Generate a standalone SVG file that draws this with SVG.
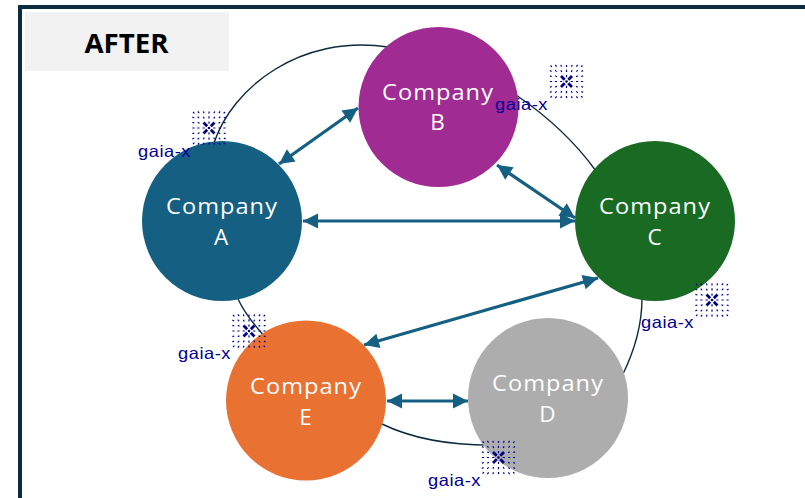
<svg xmlns="http://www.w3.org/2000/svg" width="805" height="498" viewBox="0 0 805 498">
<style>
.frame{fill:none;stroke:#0b2b3e;stroke-width:4}
.arc{fill:none;stroke:#0b2b3e;stroke-width:1.4}
.arrow{fill:none;stroke:#156082;stroke-width:3.200;marker-start:url(#head);marker-end:url(#head)}
.name{font-family:"Open Sans","Liberation Sans",sans-serif;font-size:22.500px;letter-spacing:1px;fill:#fff;text-anchor:middle}
.gx{font-family:"Liberation Sans",sans-serif;font-size:16.500px;letter-spacing:.5px;fill:#000099}
.title{font-family:"Open Sans","Liberation Sans",sans-serif;font-weight:700;font-size:26px;fill:#000;text-anchor:middle}
</style>
<defs>
<marker id="head" markerUnits="userSpaceOnUse" markerWidth="18" markerHeight="18" viewBox="0 0 18 18" refX="16" refY="9" orient="auto-start-reverse">
<path d="M1 1.500L16 9L1 16.500Z" fill="#156082"/>
</marker>
<path id="q" d="M4.200 0H6.400M9.500 0H11.700M14.400 0H16.600M9.900 9.900L11.300 11.300M14.600 14.600L16 16M4.800 9.500L5.600 11.200M9.500 4.800L11.200 5.600M5 14.700L5.600 16.600M14.700 5L16.600 5.600M9.900 14.900L11.100 16.600M14.900 9.900L16.600 11.100" stroke="#000099" stroke-width="1.200" fill="none"/>
<g id="logo">
<use href="#q"/>
<use href="#q" transform="rotate(90)"/>
<use href="#q" transform="rotate(180)"/>
<use href="#q" transform="rotate(270)"/>
<path d="M-5.500 -5.500L-1.800 -1.800M5.500 -5.500L1.800 -1.800M-5.500 5.500L-1.800 1.800M5.500 5.500L1.800 1.800" stroke="#000080" stroke-width="2.800" fill="none"/>
<circle r="1.300" fill="#000080"/>
</g>
</defs>
<rect width="805" height="498" fill="#fff"/>
<path class="frame" d="M20 498V7H805"/>
<g id="title">
<rect x="25" y="12" width="204" height="59" fill="#f2f2f2"/>
<text class="title" x="126.500" y="53" textLength="84" lengthAdjust="spacingAndGlyphs">AFTER</text>
</g>
<g id="connectors">
<path class="arc" d="M214 143C232 88 300 34 388 47"/>
<path class="arc" d="M516 95C547 116 575 142 596 171"/>
<path class="arc" d="M642 298C642 326 634 352 622 376"/>
<path class="arc" d="M382 424C415 440 455 446 500 445"/>
<path class="arc" d="M238 299C245 314 255 326 266 338"/>
<path class="arrow" d="M279 164L358 108"/>
<path class="arrow" d="M497 165L575 218"/>
<path class="arrow" d="M303 221H575"/>
<path class="arrow" d="M598 278L364 345"/>
<path class="arrow" d="M387 401H468"/>
</g>
<g id="company-a">
<circle cx="222" cy="221" r="80" fill="#156082"/>
<text class="name" x="222" y="214" textLength="112" lengthAdjust="spacingAndGlyphs">Company</text>
<text class="name" x="221.500" y="245">A</text>
<use href="#logo" x="209" y="128"/>
<text class="gx" x="138" y="157" textLength="53" lengthAdjust="spacingAndGlyphs">gaia-x</text>
</g>
<g id="company-b">
<circle cx="438.500" cy="107" r="80" fill="#A02B93"/>
<text class="name" x="438" y="100" textLength="112" lengthAdjust="spacingAndGlyphs">Company</text>
<text class="name" x="438" y="130">B</text>
<use href="#logo" x="566.500" y="81.500"/>
<text class="gx" x="495" y="110" textLength="53" lengthAdjust="spacingAndGlyphs">gaia-x</text>
</g>
<g id="company-c">
<circle cx="655" cy="221" r="80" fill="#196B24"/>
<text class="name" x="655" y="214" textLength="112" lengthAdjust="spacingAndGlyphs">Company</text>
<text class="name" x="655" y="245">C</text>
<use href="#logo" x="712" y="300"/>
<text class="gx" x="641" y="328" textLength="53" lengthAdjust="spacingAndGlyphs">gaia-x</text>
</g>
<g id="company-d">
<circle cx="548" cy="398" r="80" fill="#ADADAD"/>
<text class="name" x="548" y="391" textLength="112" lengthAdjust="spacingAndGlyphs">Company</text>
<text class="name" x="548" y="422">D</text>
<use href="#logo" x="498.500" y="457.500"/>
<text class="gx" x="428" y="486" textLength="53" lengthAdjust="spacingAndGlyphs">gaia-x</text>
</g>
<g id="company-e">
<circle cx="306" cy="400.500" r="80" fill="#E97132"/>
<text class="name" x="306" y="394" textLength="112" lengthAdjust="spacingAndGlyphs">Company</text>
<text class="name" x="306" y="425">E</text>
<use href="#logo" x="249" y="331"/>
<text class="gx" x="178" y="359" textLength="53" lengthAdjust="spacingAndGlyphs">gaia-x</text>
</g>
</svg>
